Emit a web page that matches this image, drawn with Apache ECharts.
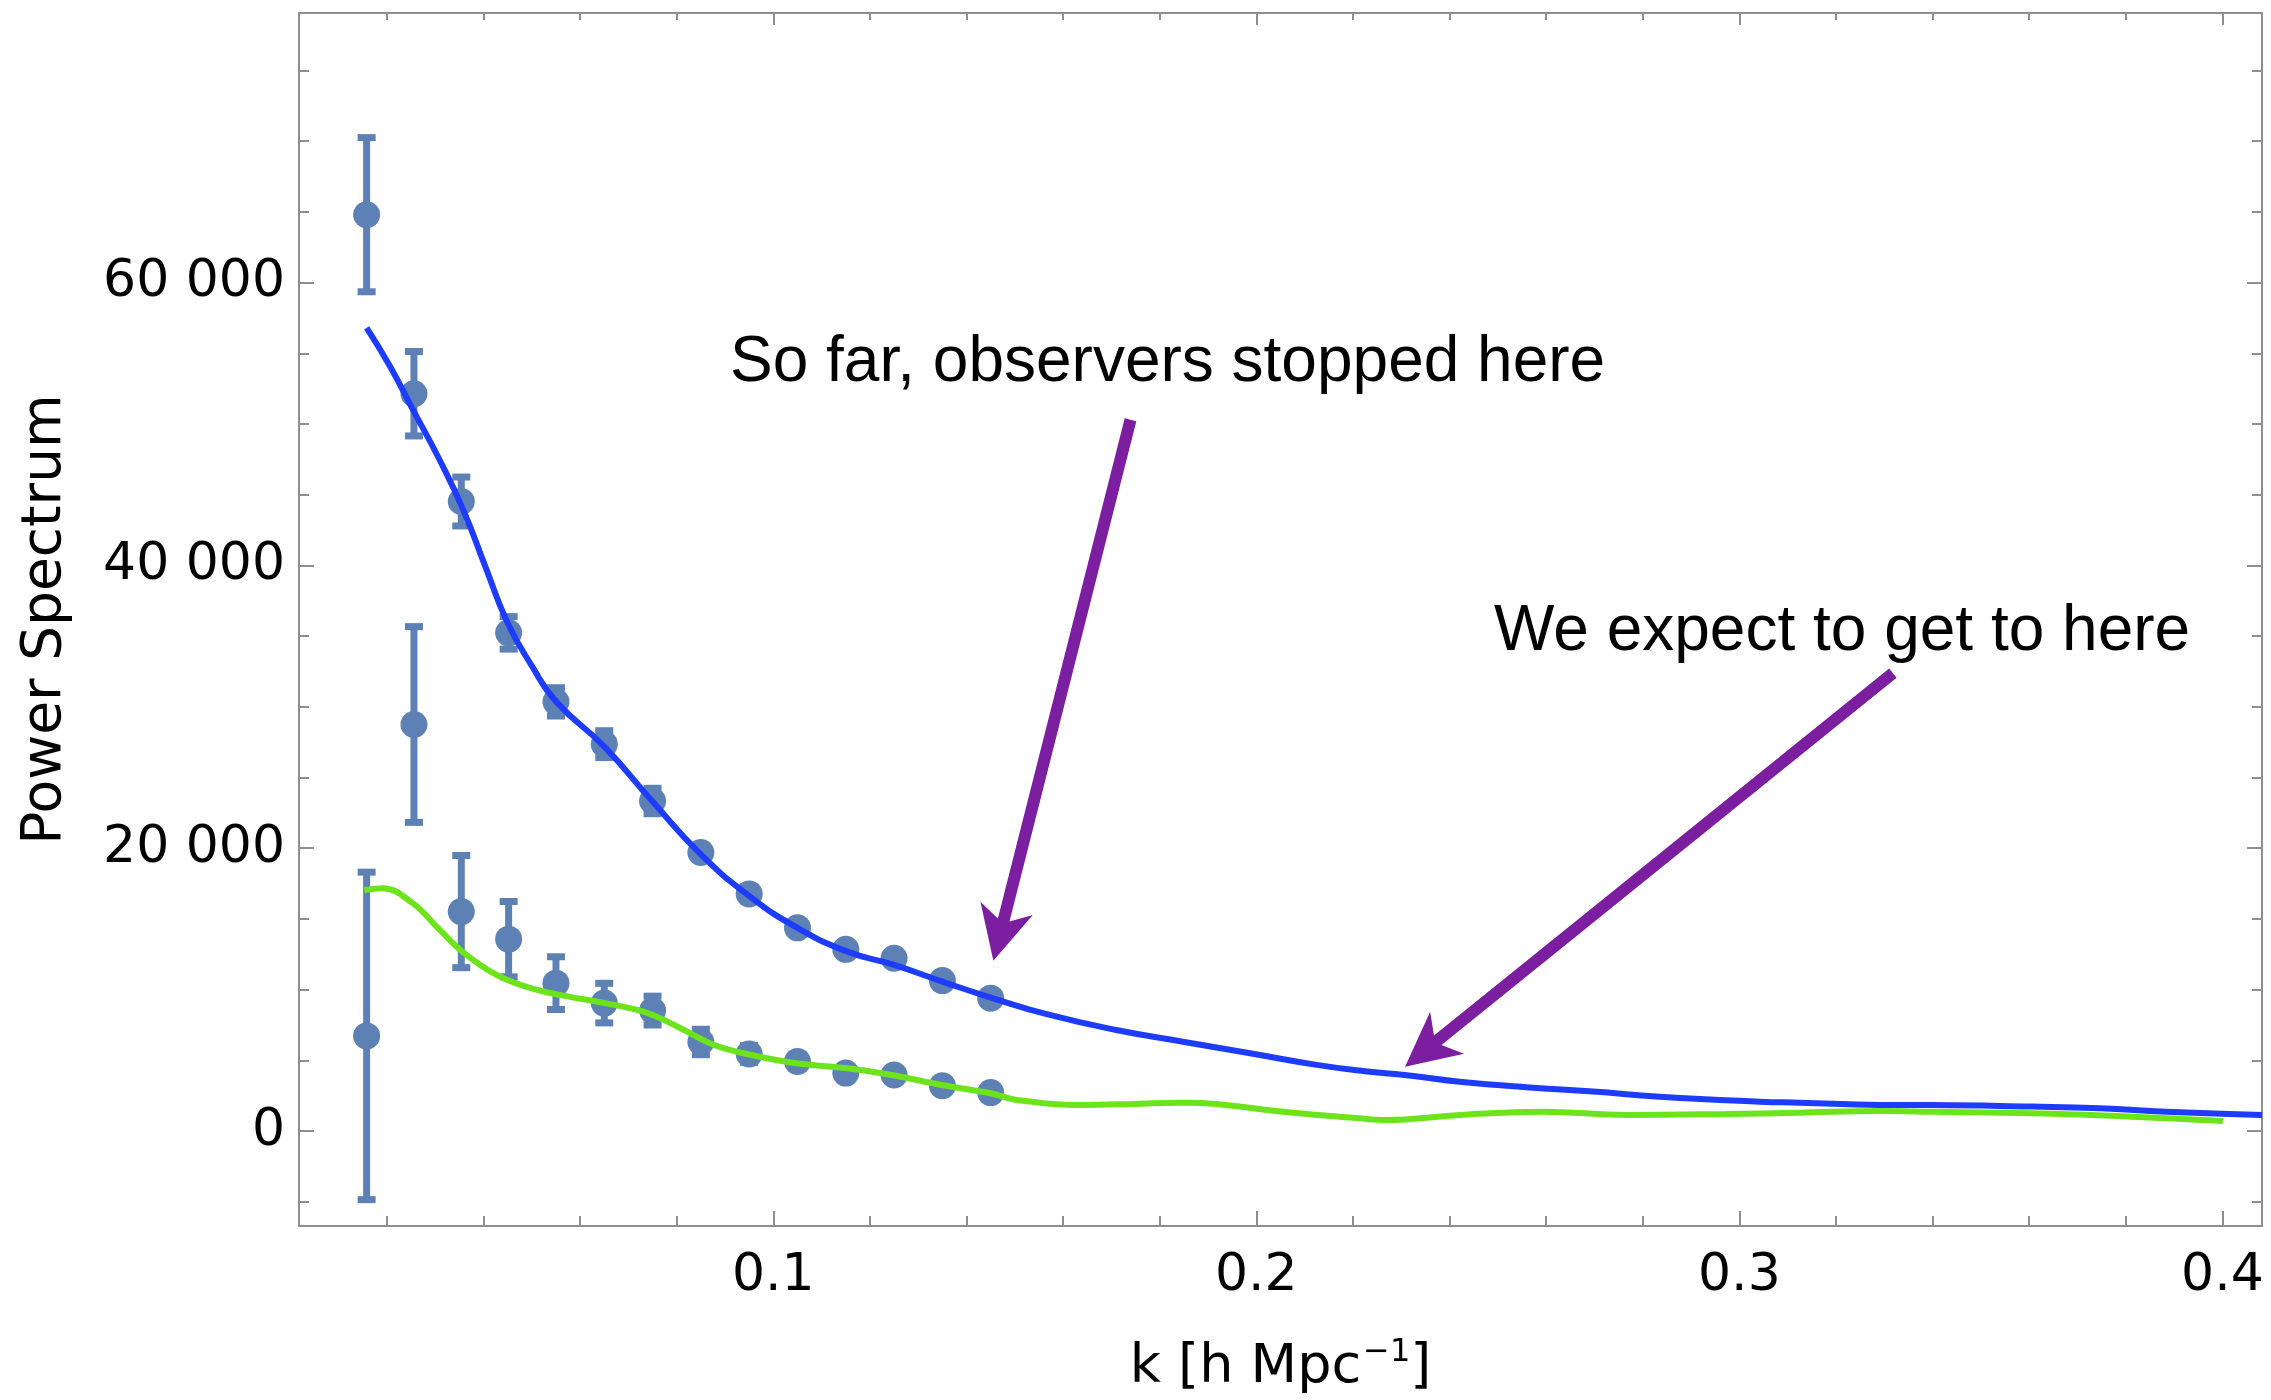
<!DOCTYPE html>
<html><head><meta charset="utf-8">
<script src="https://cdn.jsdelivr.net/npm/echarts@6/dist/echarts.min.js"></script>
<style>html,body{margin:0;padding:0;background:#fff;}#c{width:2271px;height:1400px;}</style>
</head><body><div id="c"></div>
<script>
// ---------------- data ----------------
const kBins = [0.0158, 0.0256, 0.0354, 0.0452, 0.055, 0.065, 0.075, 0.085, 0.095, 0.105, 0.115, 0.125, 0.135, 0.145];
const measuredUpper = [64800, 52140, 44520, 35230, 30350, 27360, 23340, 19700, 16770, 14370, 12850, 12220, 10640, 9400];
const errUpper      = [5450, 2985, 1730, 1150, 1000, 950, 900, 500, 500, 450, 400, 400, 400, 400];
const measuredLower = [6730, 28750, 15520, 13570, 10460, 9050, 8520, 6300, 5450, 4920, 4100, 3970, 3210, 2720];
const errLower      = [11580, 6920, 3965, 2665, 1865, 1400, 1020, 900, 600, 500, 400, 400, 400, 400];

const theoryUpperK = [0.0158, 0.0206, 0.0254, 0.0309, 0.0358, 0.0404, 0.0449, 0.050, 0.0551, 0.0651, 0.075, 0.085, 0.095, 0.105, 0.1155, 0.125, 0.135, 0.1455, 0.1572, 0.171, 0.1848, 0.1987, 0.2125, 0.2225, 0.2307, 0.2421, 0.2559, 0.2697, 0.2835, 0.3042, 0.3125, 0.3291, 0.3399, 0.3606, 0.3746, 0.3884, 0.4082];
const theoryUpperP = [56800, 54100, 51000, 47470, 43930, 39900, 36000, 32900, 30350, 27150, 23300, 19570, 16630, 14370, 12670, 11750, 10570, 9390, 8210, 7150, 6320, 5500, 4680, 4230, 3970, 3490, 3100, 2790, 2430, 2080, 2010, 1850, 1840, 1730, 1610, 1370, 1140];

const theoryLowerK = [0.0153, 0.0191, 0.0254, 0.0309, 0.0358, 0.0427, 0.0496, 0.0565, 0.0651, 0.0737, 0.0806, 0.0875, 0.0945, 0.1048, 0.1158, 0.1245, 0.1349, 0.145, 0.1504, 0.1642, 0.1745, 0.1848, 0.1917, 0.2055, 0.2213, 0.227, 0.2421, 0.2594, 0.2767, 0.2974, 0.3125, 0.3291, 0.3399, 0.3606, 0.3813, 0.4001];
const theoryLowerP = [17030, 17170, 16100, 14240, 12640, 11040, 10120, 9580, 9050, 8380, 7310, 6120, 5450, 4790, 4420, 3970, 3260, 2670, 2200, 1850, 1920, 2010, 1920, 1370, 905, 785, 1140, 1370, 1140, 1210, 1300, 1420, 1370, 1260, 1020, 714];

const xTickValues = [0.1, 0.2, 0.3, 0.4];
const xTickLabels = ['0.1', '0.2', '0.3', '0.4'];
const yTickValues = [0, 20000, 40000, 60000];
const yTickLabels = ['0', '20 000', '40 000', '60 000'];

const annotationTexts = ['So far, observers stopped here', 'We expect to get to here'];
// arrows in data coordinates: [k, P]
const arrowTail = [[0.17395, 50300], [0.33178, 32380]];
const arrowTip  = [[0.14555, 12050], [0.23079, 4555]];

// ---------------- styles ----------------
const X_MIN = 0.0018, X_MAX = 0.4082, Y_MIN = -6713, Y_MAX = 79063;
const FRAME = '#8f8f8f';
const PT = '#5e81b5';
const BLUE = '#1e3cff';
const GREEN = '#6de31b';
const PURPLE = '#7b1fa0';
const FONT = 'DejaVu Sans';

function zip(a, b) { return a.map((v, i) => [v, b[i]]); }
function errData(vals, errs) { return kBins.map((k, i) => [k, vals[i] - errs[i], vals[i] + errs[i]]); }
function lookup(vals, labels, v) {
  for (let i = 0; i < vals.length; i++) if (Math.abs(v - vals[i]) < 1e-7 * (1 + Math.abs(vals[i]))) return labels[i];
  return '';
}

function errRender(params, api) {
  const k = api.value(0), lo = api.value(1), hi = api.value(2);
  const a = api.coord([k, hi]), b = api.coord([k, lo]);
  const hw = 9, st = { stroke: PT, lineWidth: 7 };
  return { type: 'group', children: [
    { type: 'line', shape: { x1: a[0], y1: a[1], x2: b[0], y2: b[1] }, style: st },
    { type: 'line', shape: { x1: a[0] - hw, y1: a[1], x2: a[0] + hw, y2: a[1] }, style: st },
    { type: 'line', shape: { x1: b[0] - hw, y1: b[1], x2: b[0] + hw, y2: b[1] }, style: st }
  ]};
}

function xAxisCfg(pos, showLabel, majorLen, minorLen) {
  return {
    type: 'value', position: pos, min: X_MIN, max: X_MAX,
    splitNumber: 4, minInterval: 0.1, maxInterval: 0.1,
    axisLine: { show: true, onZero: false, lineStyle: { color: FRAME, width: 2 } },
    axisTick: { show: true, inside: true, length: majorLen, lineStyle: { color: FRAME, width: 2 } },
    minorTick: { show: true, splitNumber: 5, length: minorLen, lineStyle: { color: FRAME, width: 2 } },
    splitLine: { show: false },
    axisLabel: { show: showLabel, margin: 24, color: '#000', fontFamily: FONT, fontSize: 52,
      formatter: v => lookup(xTickValues, xTickLabels, v) }
  };
}
function yAxisCfg(pos, showLabel, majorLen, minorLen) {
  return {
    type: 'value', position: pos, min: Y_MIN, max: Y_MAX,
    splitNumber: 4, minInterval: 20000, maxInterval: 20000,
    axisLine: { show: true, onZero: false, lineStyle: { color: FRAME, width: 2 } },
    axisTick: { show: true, inside: true, length: majorLen, lineStyle: { color: FRAME, width: 2 } },
    minorTick: { show: true, splitNumber: 4, length: minorLen, lineStyle: { color: FRAME, width: 2 } },
    splitLine: { show: false },
    axisLabel: { show: showLabel, margin: 14, color: '#000', fontFamily: FONT, fontSize: 52,
      formatter: v => lookup(yTickValues, yTickLabels, v) }
  };
}

const chart = echarts.init(document.getElementById('c'), null, { renderer: 'canvas' });

const xBottom = xAxisCfg('bottom', true, 15, 10);
xBottom.name = '{a|k [h Mpc}{s|−1}{a|]}';
xBottom.nameLocation = 'middle';
xBottom.nameGap = 111;
xBottom.nameTextStyle = { rich: {
  a: { fontFamily: FONT, fontSize: 54, lineHeight: 58, color: '#000', verticalAlign: 'bottom' },
  s: { fontFamily: FONT, fontSize: 32, lineHeight: 34, color: '#000', verticalAlign: 'top', padding: [0, 0, 40, 2] }
}};
const yLeft = yAxisCfg('left', true, 15, 10);
yLeft.name = 'Power Spectrum';
yLeft.nameLocation = 'middle';
yLeft.nameRotate = 90;
yLeft.nameGap = 226;
yLeft.nameTextStyle = { fontFamily: FONT, fontSize: 55, color: '#000' };

chart.setOption({
  animation: false,
  backgroundColor: '#fff',
  grid: { left: 299, right: 9, top: 13, bottom: 174, containLabel: false, outerBoundsMode: 'none' },
  xAxis: [xBottom, xAxisCfg('top', false, 12, 7)],
  yAxis: [yLeft, yAxisCfg('right', false, 15, 10)],
  series: [
    { type: 'custom', name: 'errUpper', renderItem: errRender, data: errData(measuredUpper, errUpper), encode: { x: 0, y: [1, 2] }, z: 2 },
    { type: 'custom', name: 'errLower', renderItem: errRender, data: errData(measuredLower, errLower), encode: { x: 0, y: [1, 2] }, z: 2 },
    { type: 'scatter', name: 'upper', data: zip(kBins, measuredUpper), symbol: 'circle', symbolSize: 27, itemStyle: { color: PT, opacity: 1 }, z: 3 },
    { type: 'scatter', name: 'lower', data: zip(kBins, measuredLower), symbol: 'circle', symbolSize: 27, itemStyle: { color: PT, opacity: 1 }, z: 3 },
    { type: 'line', name: 'theoryUpper', data: zip(theoryUpperK, theoryUpperP), showSymbol: false, smooth: 0.5, lineStyle: { color: BLUE, width: 6 }, z: 4 },
    { type: 'line', name: 'theoryLower', data: zip(theoryLowerK, theoryLowerP), showSymbol: false, smooth: 0.4, lineStyle: { color: GREEN, width: 6 }, z: 4 }
  ]
});

function arrowPolygon(tail, tip) {
  const dx = tip[0] - tail[0], dy = tip[1] - tail[1];
  const L = Math.hypot(dx, dy), ux = dx / L, uy = dy / L, nx = -uy, ny = ux;
  const sw = 6, headLen = 54, notch = 42, headHalf = 27;
  const P = (d, o) => [tip[0] - ux * d + nx * o, tip[1] - uy * d + ny * o];
  return [
    [tail[0] + nx * sw, tail[1] + ny * sw], P(notch, sw), P(headLen, headHalf), tip.slice(),
    P(headLen, -headHalf), P(notch, -sw), [tail[0] - nx * sw, tail[1] - ny * sw]
  ];
}

const graphics = [];
for (let i = 0; i < arrowTail.length; i++) {
  const t = chart.convertToPixel({ xAxisIndex: 0, yAxisIndex: 0 }, arrowTail[i]);
  const h = chart.convertToPixel({ xAxisIndex: 0, yAxisIndex: 0 }, arrowTip[i]);
  graphics.push({ type: 'polygon', shape: { points: arrowPolygon(t, h) }, style: { fill: PURPLE }, z: 100 });
}
graphics.push({ type: 'text', left: 730, top: 331, z: 100,
  style: { text: annotationTexts[0], font: '64px "Liberation Sans"', fill: '#000' } });
graphics.push({ type: 'text', left: 1494, top: 600, z: 100,
  style: { text: annotationTexts[1], font: '64px "Liberation Sans"', fill: '#000' } });
chart.setOption({ graphic: graphics });
</script></body></html>
